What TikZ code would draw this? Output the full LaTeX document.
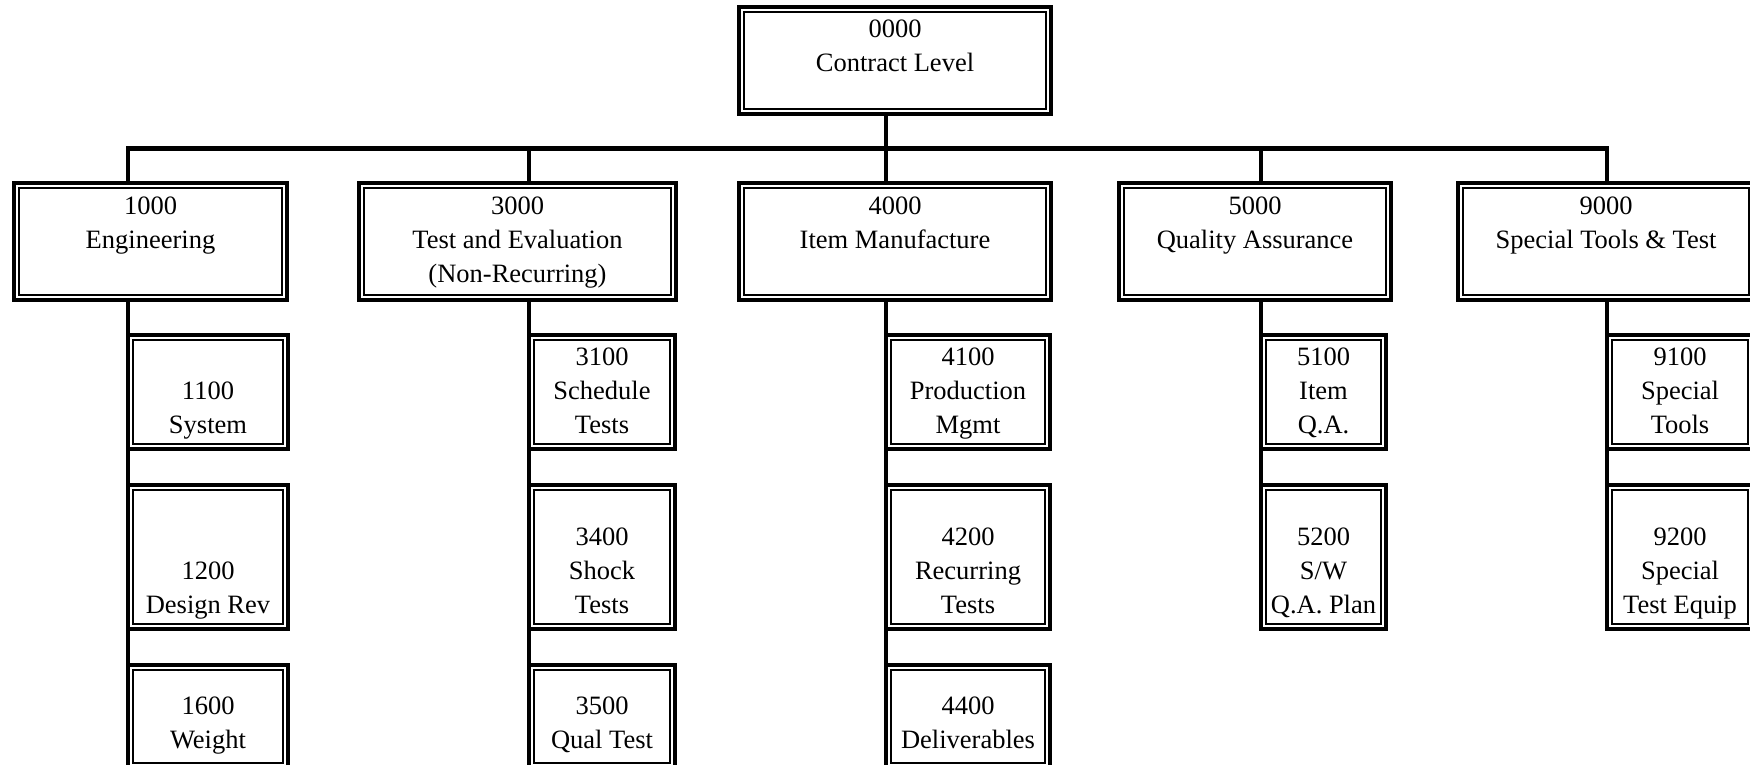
\documentclass[tikz,border=0pt]{standalone}
\usepackage{fontspec}
\setmainfont{Liberation Serif}
\newcommand\wbs[7]{%
  \node[wbsbox, minimum width=#4pt, minimum height=#5pt] (#1) at (#2,#3) {};
  \node[wbstext] (#1-t) at (#2,#6) {#7};}
\begin{document}
\begin{tikzpicture}[x=1pt,y=-1pt,
  wbsbox/.style={draw, line width=4.3pt, fill=white, inner sep=0pt, outer sep=0pt,
    path picture={\draw[line width=2.5pt]
      ([shift={(5.2pt,-5.2pt)}]path picture bounding box.north west) rectangle
      ([shift={(-5.2pt,5.2pt)}]path picture bounding box.south east);}},
  wbstext/.style={anchor=base, align=center, inner sep=0pt,
    font=\fontsize{26.5}{34}\selectfont},
  conn/.style={line width=4.5pt, line join=miter}]
\useasboundingbox (0,0) rectangle (1750,765);
\clip (0,0) rectangle (1750,765);
\coordinate (bus) at (0,148.5);
% boxes (text position = baseline of last line)
\wbs{top}{895}{60.5}{312}{107}{71.5}{0000\\Contract Level}
\wbs{e1}{150.5}{241.5}{273}{117}{248}{1000\\Engineering}
\wbs{e3}{517.5}{241.5}{317}{117}{282}{3000\\Test and Evaluation\\(Non-Recurring)}
\wbs{e4}{895}{241.5}{312}{117}{248}{4000\\Item Manufacture}
\wbs{e5}{1255}{241.5}{272}{117}{248}{5000\\Quality Assurance}
\wbs{e9}{1606}{241.5}{296}{117}{248}{9000\\Special Tools \& Test}
\wbs{s11}{208}{392}{160}{114}{433}{1100\\System}
\wbs{s12}{208}{557}{160}{144}{613}{1200\\Design Rev}
\wbs{s13}{208}{716.5}{160}{103}{748}{1600\\Weight}
\wbs{s31}{602}{392}{146}{114}{433}{3100\\Schedule\\Tests}
\wbs{s32}{602}{557}{146}{144}{613}{3400\\Shock\\Tests}
\wbs{s33}{602}{716.5}{146}{103}{748}{3500\\Qual Test}
\wbs{s41}{968}{392}{164}{114}{433}{4100\\Production\\Mgmt}
\wbs{s42}{968}{557}{164}{144}{613}{4200\\Recurring\\Tests}
\wbs{s43}{968}{716.5}{164}{103}{748}{4400\\Deliverables}
\wbs{s51}{1323.5}{392}{125}{114}{433}{5100\\Item\\Q.A.}
\wbs{s52}{1323.5}{557}{125}{144}{613}{5200\\S/W\\Q.A. Plan}
\wbs{s91}{1680}{392}{146}{114}{433}{9100\\Special\\Tools}
\wbs{s92}{1680}{557}{146}{144}{613}{9200\\Special\\Test Equip}
% connectors
\draw[conn] (top.south -| s41.west) -- (s41.west |- bus);
\draw[conn] (e1.north -| s11.west) -- (s11.west |- bus) -- (s91.west |- bus) -- (e9.north -| s91.west);
\draw[conn] (s31.west |- bus) -- (e3.north -| s31.west);
\draw[conn] (s41.west |- bus) -- (e4.north -| s41.west);
\draw[conn] (s51.west |- bus) -- (e5.north -| s51.west);
\draw[conn] (e1.south -| s11.west) -- (s11.north west);
\draw[conn] (s11.south west) -- (s12.north west);
\draw[conn] (s12.south west) -- (s13.north west);
\draw[conn] (e3.south -| s31.west) -- (s31.north west);
\draw[conn] (s31.south west) -- (s32.north west);
\draw[conn] (s32.south west) -- (s33.north west);
\draw[conn] (e4.south -| s41.west) -- (s41.north west);
\draw[conn] (s41.south west) -- (s42.north west);
\draw[conn] (s42.south west) -- (s43.north west);
\draw[conn] (e5.south -| s51.west) -- (s51.north west);
\draw[conn] (s51.south west) -- (s52.north west);
\draw[conn] (e9.south -| s91.west) -- (s91.north west);
\draw[conn] (s91.south west) -- (s92.north west);
\end{tikzpicture}
\end{document}
